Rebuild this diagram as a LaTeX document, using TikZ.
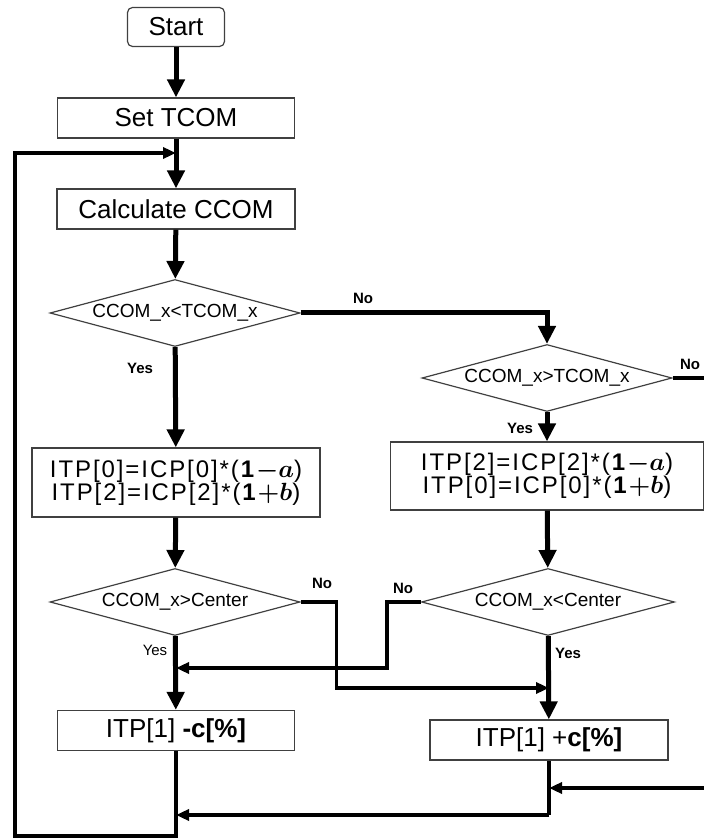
\documentclass[tikz,border=0pt]{standalone}
\usepackage{amsmath}
\usepackage{bm}
\usepackage{fontspec}
\setmainfont{Liberation Sans}
\usetikzlibrary{positioning}
\usetikzlibrary{shapes.geometric,shapes.misc,arrows.meta}

\begin{document}
\begin{tikzpicture}[x=1pt, y=1pt,
      type-start/.style={rectangle, rounded corners=5pt, draw=black!75, line width=1.2pt, minimum width=97pt, minimum height=39pt, font=\fontsize{26}{28}\selectfont},
      type-step/.style={rectangle, draw=black!75, line width=1.2pt, minimum height=40pt, font=\fontsize{26}{28}\selectfont},
      type-calc/.style={rectangle, draw=black!75, line width=1.2pt, minimum height=69pt, align=center, inner sep=2pt, font=\fontsize{24}{23}\selectfont\addfontfeatures{LetterSpace=8}},
      type-test/.style={diamond, draw=black!75, line width=1.2pt, aspect=4, inner sep=0pt, minimum width=250pt, minimum height=67pt, font=\fontsize{19}{20}\selectfont},
      type-answer/.style={inner sep=0pt, font=\bfseries\fontsize{15}{16}\selectfont},
      flow/.style={line width=5pt, -{Triangle[length=18pt,width=17pt]}},
      back/.style={line width=3.5pt, -{Triangle[length=13pt,width=11pt]}}
    ]
      \useasboundingbox (0,0) rectangle (704,839);
      \clip (0,0) rectangle (704,839);

      \node[type-start] (start) at (176,812) {Start};
      \node[type-step, minimum width=237pt] (settcom) at (176,721) {Set TCOM};
      \node[type-step, minimum width=238pt] (calc) at (176,630) {Calculate CCOM};
      \node[type-test] (testleft) at (175,526) {CCOM\_x<TCOM\_x};
      \node[type-test] (testright) at (547,461) {CCOM\_x>TCOM\_x};
      \node[type-calc, minimum width=288pt] (calcleft) at (176,356.5)
        {ITP[0]=ICP[0]*(\textbf{1}$\bm{-}\bm{a}$)\\ITP[2]=ICP[2]*(\textbf{1}$\bm{+}\bm{b}$)};
      \node[type-calc, minimum width=313pt, minimum height=68pt] (calcright) at (547,363)
        {ITP[2]=ICP[2]*(\textbf{1}$\bm{-}\bm{a}$)\\ITP[0]=ICP[0]*(\textbf{1}$\bm{+}\bm{b}$)};
      \node[type-test] (centerleft) at (175,237) {CCOM\_x>Center};
      \node[type-test, minimum width=253pt] (centerright) at (548,237) {CCOM\_x<Center};
      \node[type-step, minimum width=237pt] (minus) at (176,108.5) {ITP[1] \textbf{-c[\%]}};
      \node[type-step, minimum width=238pt] (plus) at (549,99) {ITP[1] +\textbf{c[\%]}};

      \coordinate (loopin) at (176,686);
      \coordinate (joinleft) at (176,171);
      \coordinate (joinright) at (549,151);
      \coordinate (joinbottom) at (549,51);
      \coordinate (joinend) at (176,24);

      \node[type-answer] at (363,541) {No};
      \node[type-answer] at (140,471) {Yes};
      \node[type-answer] at (690,475) {No};
      \node[type-answer] at (520,411) {Yes};
      \node[type-answer] at (322,256) {No};
      \node[type-answer, font=\fontsize{15}{16}\selectfont] at (155,189) {Yes};
      \node[type-answer] at (403,251) {No};
      \node[type-answer] at (568,186) {Yes};

      \draw[flow] (start) -- (settcom);
      \draw[line width=5pt] (settcom) -- (loopin);
      \draw[flow] (loopin) -- (calc);
      \draw[flow] (calc) -- (testleft);
      \draw[flow] (testleft) -- (calcleft);
      \draw[flow] (testleft.east) -| (testright.north);
      \draw[flow] (testright) -- (calcright);
      \draw[flow] (calcleft) -- (centerleft);
      \draw[flow] (calcright) -- (centerright);
      \draw[flow] (centerleft) -- (minus);
      \draw[flow] (centerright) -- (plus);

      \draw[back] (centerleft.east) -- ++(36,0) |- (joinright);
      \draw[back] (centerright.west) -- ++(-34,0) |- (joinleft);
      \draw[back] (testright.east) -- ++(40,0) |- (joinbottom);
      \draw[line width=3.5pt] (plus.south) -- (549,24);
      \draw[back] (549,24) -- (joinend);
      \draw[back] (minus.south) -- (176,3) -- (15,3) -- (15,686) -- (loopin);
    \end{tikzpicture}
\end{document}
